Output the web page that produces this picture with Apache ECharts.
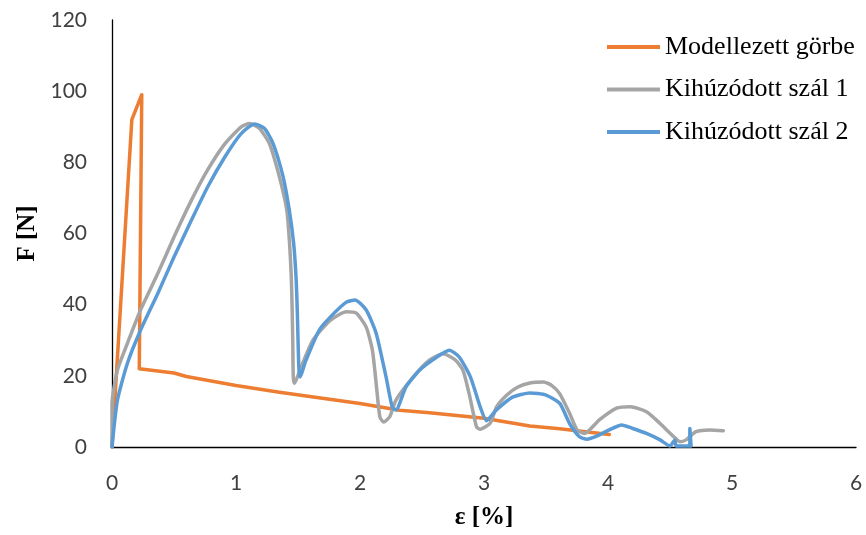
<!DOCTYPE html>
<html>
<head>
<meta charset="utf-8">
<script src="https://cdn.jsdelivr.net/npm/echarts@6/dist/echarts.min.js"></script>
<style>
  html, body { margin: 0; padding: 0; background: #fff; }
  #chart { width: 866px; height: 535px; }
</style>
</head>
<body>
<div id="chart"></div>
<script>
// Series names
const seriesNames = ['Modellezett görbe', 'Kihúzódott szál 1', 'Kihúzódott szál 2'];

// Modelled curve: strain [%] and force [N]
const modelX = [0, 0.16, 0.24, 0.22, 0.5, 0.6, 1.0, 1.35, 2.0, 2.32, 2.56, 3.0, 3.37, 3.61, 4.01];
const modelY = [0, 92, 99, 22, 20.8, 19.8, 17.3, 15.4, 12.2, 10.3, 9.6, 8.1, 5.9, 5.1, 3.5];

// Pulled-out fibre 1
const fibre1X = [0, 0, 0.044, 0.125, 0.23, 0.37, 0.50, 0.64, 0.77, 0.91, 1.04, 1.11, 1.19, 1.27, 1.35, 1.41, 1.432, 1.446, 1.453, 1.458, 1.462, 1.472,
  1.52, 1.62, 1.76, 1.89, 1.97, 2.05, 2.10, 2.13, 2.16, 2.19, 2.24, 2.29, 2.43, 2.56, 2.67, 2.77, 2.83, 2.88, 2.94, 2.97, 3.05, 3.10,
  3.18, 3.27, 3.37, 3.48, 3.55, 3.61, 3.69, 3.75, 3.81, 3.93, 4.07, 4.18, 4.31, 4.42, 4.53, 4.58, 4.63, 4.71, 4.82, 4.93];
const fibre1Y = [0, 12, 21.6, 29.2, 38.5, 48.8, 59, 69.3, 77.8, 85.2, 89.9, 90.9, 89.5, 85.2, 75.9, 66.5, 57.2, 47.8, 38.5, 29.1, 19.7, 17.9,
  22, 30, 35.6, 38, 37.6, 33.7, 27.2, 18, 8.5, 7, 8.5, 13.2, 19.7, 24.4, 26.2, 24.4, 21.6, 15, 5.6, 5.0, 6.7, 11.2,
  14.5, 16.8, 18, 18.3, 17.2, 15, 9.5, 4.8, 3.8, 7.6, 10.9, 11.3, 9.9, 6.6, 2.9, 1.5, 2, 4.3, 4.8, 4.6];

// Pulled-out fibre 2
const fibre2X = [0, 0.044, 0.125, 0.23, 0.37, 0.50, 0.64, 0.77, 0.91, 1.04, 1.15, 1.23, 1.30, 1.38, 1.43, 1.465, 1.484, 1.494, 1.501, 1.508, 1.518,
  1.56, 1.67, 1.76, 1.89, 1.96, 2.05, 2.13, 2.21, 2.26, 2.29, 2.37, 2.48, 2.62, 2.72, 2.80, 2.89, 2.97, 3.02, 3.10, 3.23, 3.37, 3.50,
  3.61, 3.69, 3.77, 3.83, 3.93, 4.01, 4.11, 4.20, 4.31, 4.42, 4.50, 4.54, 4.55, 4.66, 4.66, 4.67];
const fibre2Y = [0, 13.2, 23.6, 32.8, 43.2, 53.4, 63.7, 73, 81.5, 88, 90.8, 89.5, 85.2, 75.9, 66.5, 57.2, 47.8, 38.5, 29.1, 21.6, 19.7,
  24, 32.8, 36.5, 40.7, 41.3, 38.5, 32, 19.7, 11.2, 10.4, 16.8, 21.6, 25.3, 27.2, 25.3, 19.7, 11.2, 7.4, 10.4, 14, 15.2, 14.6,
  12.3, 6.6, 2.9, 2.2, 3.4, 4.8, 6.2, 5.2, 3.8, 2, 0.3, 2, 0.3, 0.3, 5.2, 0.3];

// Axis ticks
const xTicks = { min: 0, max: 6, step: 1 };
const yTicks = { min: 0, max: 120, step: 20 };

const zip = (xs, ys) => xs.map((x, i) => [x, ys[i]]);
const colors = ['#ED7D31', '#A5A5A5', '#5B9BD5'];
const dataSets = [zip(modelX, modelY), zip(fibre1X, fibre1Y), zip(fibre2X, fibre2Y)];

const chart = echarts.init(document.getElementById('chart'), null, { renderer: 'canvas' });

const labelFont = { fontFamily: 'Lato', fontSize: 21, color: '#404040' };
const titleFont = { fontFamily: 'Liberation Serif', fontSize: 25, fontWeight: 'bold', color: '#000' };

chart.setOption({
  animation: false,
  backgroundColor: '#fff',
  color: colors,
  grid: { left: 112, right: 10, top: 20, bottom: 88, containLabel: false },
  legend: {
    data: seriesNames,
    orient: 'vertical',
    left: 607,
    top: 32,
    padding: 0,
    itemGap: 12.5,
    itemWidth: 53,
    itemHeight: 4,
    icon: 'rect',
    textStyle: { fontFamily: 'Liberation Serif', fontSize: 26, color: '#000', lineHeight: 30 }
  },
  xAxis: {
    type: 'value',
    min: xTicks.min,
    max: xTicks.max,
    interval: xTicks.step,
    name: 'ε [%]',
    nameLocation: 'middle',
    nameGap: 58,
    nameTextStyle: titleFont,
    axisLine: { onZero: false, lineStyle: { color: '#000', width: 1.3 } },
    axisTick: { show: false },
    splitLine: { show: false },
    axisLabel: Object.assign({ margin: 26 }, labelFont)
  },
  yAxis: {
    type: 'value',
    min: yTicks.min,
    max: yTicks.max,
    interval: yTicks.step,
    name: 'F [N]',
    nameLocation: 'middle',
    nameRotate: 90,
    nameGap: 70,
    nameTextStyle: titleFont,
    axisLine: { show: true, onZero: false, lineStyle: { color: '#000', width: 1.3 } },
    axisTick: { show: false },
    splitLine: { show: false },
    axisLabel: Object.assign({ margin: 25 }, labelFont)
  },
  series: seriesNames.map((name, i) => ({
    name,
    type: 'line',
    data: dataSets[i],
    showSymbol: false,
    symbol: 'none',
    smooth: i === 0 ? false : 0.2,
    lineStyle: { color: colors[i], width: 3.5, join: 'round', cap: 'round' },
    itemStyle: { color: colors[i] },
    z: 2 + i
  }))
});
</script>
</body>
</html>
